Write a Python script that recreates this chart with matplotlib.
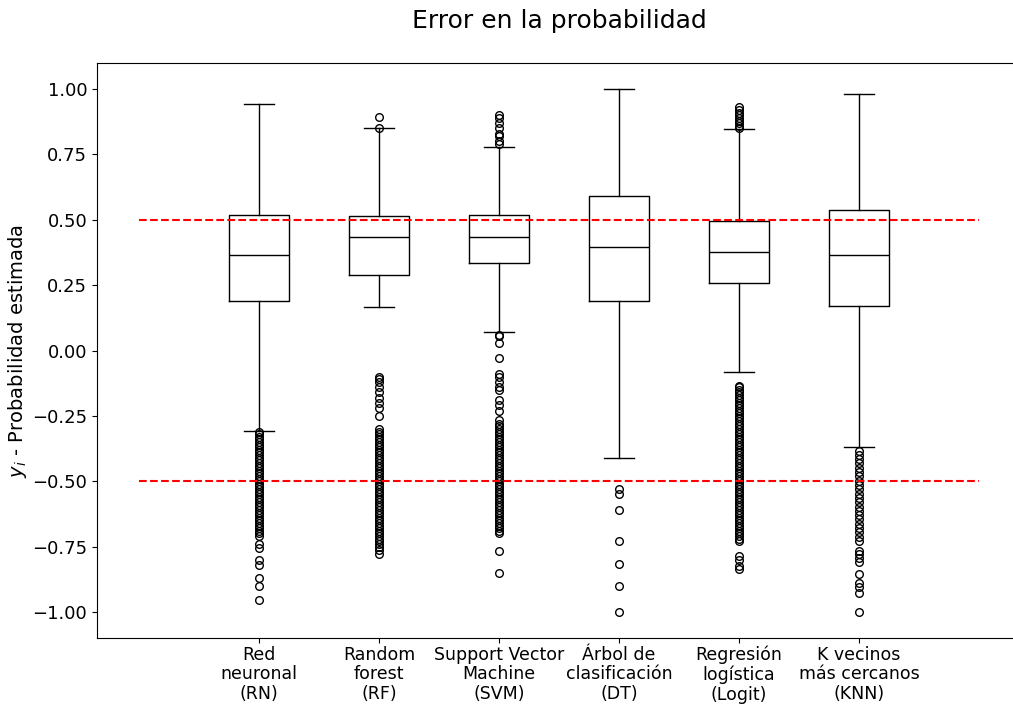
import matplotlib
matplotlib.use("Agg")
import matplotlib.pyplot as plt

# etiquetas de los modelos
modelos = ["Red\nneuronal\n(RN)", "Random\nforest\n(RF)", "Support Vector\nMachine\n(SVM)",
           "Árbol de\nclasificación\n(DT)", "Regresión\nlogística\n(Logit)", "K vecinos\nmás cercanos\n(KNN)"]

# estadisticos de cada caja
whishi = [0.943, 0.851, 0.780, 1.000, 0.847, 0.981]
q3 = [0.517, 0.513, 0.517, 0.590, 0.494, 0.536]
mediana = [0.364, 0.433, 0.433, 0.395, 0.375, 0.364]
q1 = [0.188, 0.287, 0.333, 0.188, 0.257, 0.172]
whislo = [-0.307, 0.165, 0.069, -0.410, -0.084, -0.368]

# valores atipicos
fl_rn = [-0.31, -0.32, -0.33, -0.34, -0.35, -0.36, -0.37, -0.38, -0.39, -0.40,
         -0.41, -0.42, -0.43, -0.44, -0.45, -0.46, -0.47, -0.48, -0.49, -0.50,
         -0.51, -0.52, -0.53, -0.54, -0.55, -0.56, -0.57, -0.58, -0.59, -0.60,
         -0.61, -0.62, -0.63, -0.64, -0.65, -0.66, -0.67, -0.68, -0.69, -0.70,
         -0.71, -0.74, -0.755, -0.80, -0.82, -0.87, -0.90, -0.955]
fl_rf = [0.893, 0.853,
         -0.10, -0.11, -0.12, -0.14, -0.16, -0.18, -0.20, -0.22, -0.25,
         -0.30, -0.31, -0.32, -0.33, -0.34, -0.35, -0.36, -0.37, -0.38, -0.39,
         -0.40, -0.41, -0.42, -0.43, -0.44, -0.45, -0.46, -0.47, -0.48, -0.49,
         -0.50, -0.51, -0.52, -0.53, -0.54, -0.55, -0.56, -0.57, -0.58, -0.59,
         -0.60, -0.61, -0.62, -0.63, -0.64, -0.65, -0.66, -0.67, -0.68, -0.69,
         -0.70, -0.71, -0.72, -0.73, -0.74, -0.75, -0.765, -0.778]
fl_svm = [0.90, 0.89, 0.87, 0.85, 0.83, 0.82, 0.80, 0.79,
          0.06, 0.057, 0.027, -0.03, -0.09, -0.10, -0.12, -0.14, -0.15, -0.19,
          -0.21, -0.23, -0.265,
          -0.28, -0.29, -0.30, -0.31, -0.32, -0.33, -0.34, -0.35, -0.36, -0.37,
          -0.38, -0.39, -0.40, -0.41, -0.42, -0.43, -0.44, -0.45, -0.46, -0.47,
          -0.48, -0.49, -0.50, -0.51, -0.52, -0.53, -0.54, -0.55, -0.56, -0.57,
          -0.58, -0.59, -0.60, -0.61, -0.62, -0.63, -0.64, -0.65, -0.66, -0.67,
          -0.68, -0.69, -0.70, -0.766, -0.85]
fl_dt = [-0.53, -0.55, -0.61, -0.73, -0.815, -0.90, -1.00]
fl_logit = [0.93, 0.92, 0.91, 0.90, 0.89, 0.88, 0.87, 0.86, 0.85,
            -0.134, -0.14, -0.15, -0.16, -0.17, -0.18, -0.19, -0.20, -0.21, -0.22,
            -0.23, -0.24, -0.25, -0.26, -0.27, -0.28, -0.29, -0.30, -0.31, -0.32,
            -0.33, -0.34, -0.35, -0.36, -0.37, -0.38, -0.39, -0.40, -0.41, -0.42,
            -0.43, -0.44, -0.45, -0.46, -0.47, -0.48, -0.49, -0.50, -0.51, -0.52,
            -0.53, -0.54, -0.55, -0.56, -0.57, -0.58, -0.59, -0.60, -0.61, -0.62,
            -0.63, -0.64, -0.65, -0.66, -0.67, -0.68, -0.69, -0.70, -0.71, -0.72,
            -0.728, -0.785, -0.80, -0.825, -0.835]
fl_knn = [-0.383, -0.40, -0.416, -0.432, -0.449, -0.465, -0.482, -0.498, -0.515,
          -0.531, -0.548, -0.564, -0.581, -0.597, -0.614, -0.63, -0.646, -0.663,
          -0.679, -0.696, -0.712, -0.728, -0.766, -0.78, -0.795, -0.81, -0.855,
          -0.889, -0.905, -0.927, -1.00]
fliers = [fl_rn, fl_rf, fl_svm, fl_dt, fl_logit, fl_knn]

stats = []
for i in range(len(modelos)):
    stats.append({"med": mediana[i], "q1": q1[i], "q3": q3[i],
                  "whislo": whislo[i], "whishi": whishi[i], "fliers": fliers[i]})

fig = plt.figure(figsize=(10.13, 7.04), dpi=100)
ax = fig.add_axes([97/1013, 66/704, 924/1013, 575/704])

ax.bxp(stats, positions=range(1, 7), widths=0.5,
       medianprops=dict(color="black"),
       flierprops=dict(marker="o", markerfacecolor="none", markeredgecolor="black", markersize=5.5))

ax.hlines([0.5, -0.5], 0, 7, colors="red", linestyles="--")

ax.set_xlim(-0.35, 7.35)
ax.set_ylim(-1.1, 1.1)
ax.set_xticks(range(1, 7))
ax.set_xticklabels(modelos, fontsize=12.5, linespacing=1.12)
ax.tick_params(axis="x", pad=2)
ax.set_yticks([-1.0, -0.75, -0.5, -0.25, 0.0, 0.25, 0.5, 0.75, 1.0])
ax.set_yticklabels(["−1.00", "−0.75", "−0.50", "−0.25", "0.00", "0.25", "0.50", "0.75", "1.00"])
ax.tick_params(axis="y", labelsize=13)
ax.set_ylabel("$y_i$ - Probabilidad estimada", fontsize=14, labelpad=2)
ax.set_title("Error en la probabilidad", fontsize=18, pad=25)

fig.savefig("out.png", dpi=100)
